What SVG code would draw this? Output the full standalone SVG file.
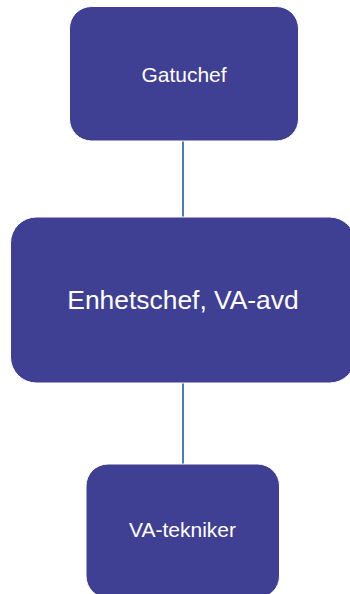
<svg xmlns="http://www.w3.org/2000/svg" width="350" height="594" viewBox="0 0 350 594">
<style>
.node{fill:#3f3f94;stroke:#ffffff;stroke-width:1}
.lbl{fill:#ffffff;font-family:"Liberation Sans",Arial,sans-serif;text-anchor:middle}
.conn{stroke:#4a7ebb;stroke-width:2;fill:none}
</style>
<rect width="350" height="594" fill="#ffffff"/>
<g id="connectors">
<line class="conn" x1="183" y1="141" x2="183" y2="217"/>
<line class="conn" x1="183" y1="383" x2="183" y2="464"/>
</g>
<g id="gatuchef">
<rect class="node" x="69.5" y="6.5" width="229" height="134.5" rx="22"/>
<text class="lbl" x="184" y="81.5" font-size="21">Gatuchef</text>
</g>
<g id="enhetschef">
<rect class="node" x="10.5" y="217" width="345" height="166" rx="26"/>
<text class="lbl" x="183" y="309" font-size="26.4">Enhetschef, VA-avd</text>
</g>
<g id="va-tekniker">
<rect class="node" x="86" y="464" width="193.5" height="134" rx="22"/>
<text class="lbl" x="182.5" y="537" font-size="21">VA-tekniker</text>
</g>
</svg>
